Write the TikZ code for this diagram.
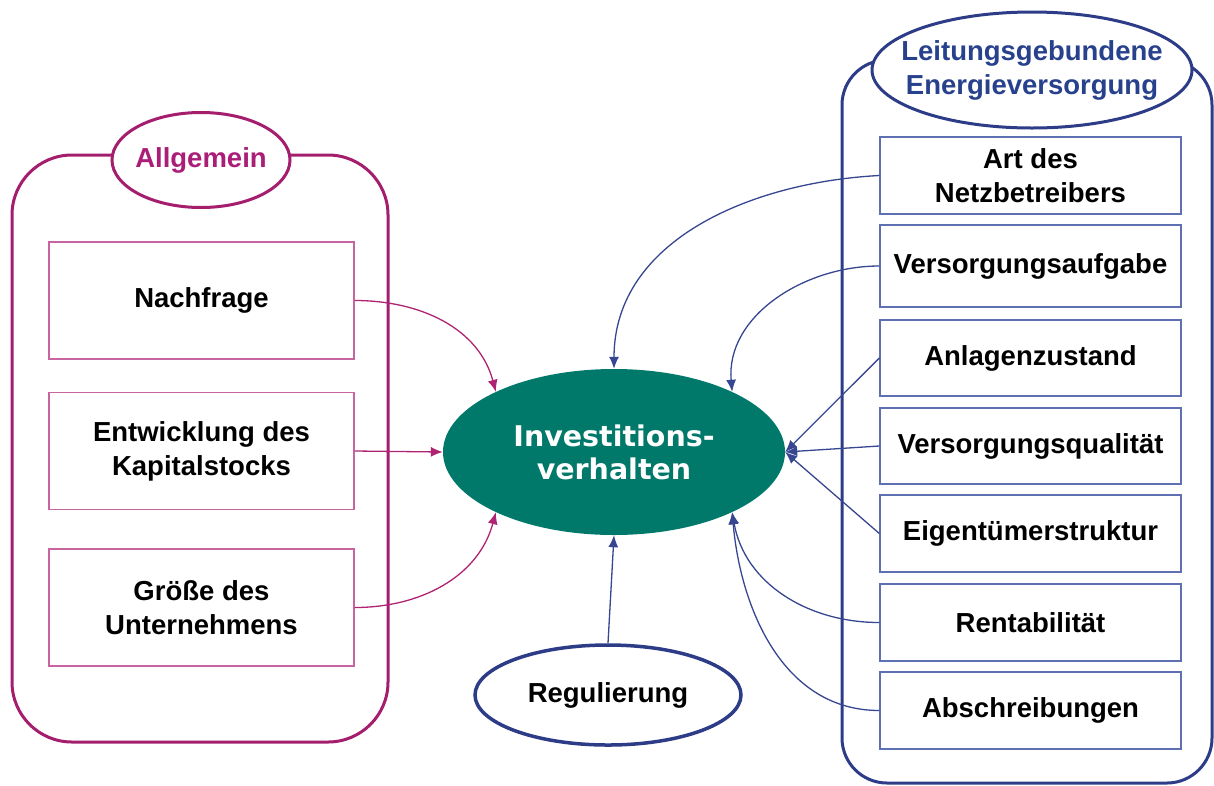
\documentclass[tikz,border=0pt]{standalone}
\usepackage{fontspec}
\setmainfont{Liberation Sans}
\newfontfamily\verd{DejaVu Sans}
\usetikzlibrary{shapes.geometric,arrows.meta}
\definecolor{magD}{RGB}{165,30,110}
\definecolor{magL}{RGB}{200,100,160}
\definecolor{magC}{RGB}{175,35,115}
\definecolor{magT}{RGB}{170,30,120}
\definecolor{blueD}{RGB}{45,60,135}
\definecolor{blueL}{RGB}{95,112,178}
\definecolor{blueC}{RGB}{55,70,145}
\definecolor{blueT}{RGB}{40,65,140}
\definecolor{tealC}{RGB}{0,121,107}
\newcommand\myfs{\fontsize{27.5}{34}\selectfont}
\tikzset{
  grpL/.style={draw=magD, line width=3pt, rounded corners=60pt, minimum width=376pt, minimum height=587pt, inner sep=0pt},
  grpR/.style={draw=blueD, line width=3pt, rounded corners=45pt, minimum width=370pt, minimum height=723pt, inner sep=0pt},
  boxL/.style={draw=magL, line width=1.3pt, minimum width=305pt, minimum height=117pt, inner sep=0pt, align=center, font=\bfseries\myfs},
  boxR/.style={draw=blueL, line width=1.3pt, minimum width=301pt, minimum height=77pt, inner sep=0pt, align=center, font=\bfseries\myfs},
  ellL/.style={ellipse, draw=magD, line width=3pt, fill=white, minimum width=178pt, minimum height=95pt, inner sep=-10pt, text=magT, font=\bfseries\myfs},
  ellR/.style={ellipse, draw=blueD, line width=3pt, fill=white, minimum width=320pt, minimum height=116pt, inner sep=-25pt, text=blueT, align=center, font=\bfseries\myfs},
  ellReg/.style={ellipse, draw=blueD, line width=3.5pt, fill=white, minimum width=266pt, minimum height=100pt, inner sep=0pt, font=\bfseries\myfs},
  ellC/.style={ellipse, fill=tealC, minimum width=342pt, minimum height=166pt, inner sep=0pt, text=white, align=center, font=\verd\bfseries\fontsize{28.5}{33}\selectfont},
  mconn/.style={draw=magC, line width=1.3pt, -{Latex[length=12pt,width=10pt]}},
  bconn/.style={draw=blueC, line width=1.3pt, -{Latex[length=12pt,width=10pt]}},
}
\begin{document}
\begin{tikzpicture}[x=1pt,y=-1pt]
\useasboundingbox (0,0) rectangle (1214,785);
% groups
\node[grpL] (gL) at (200,448.5) {};
\node[grpR] (gR) at (1027,421.5) {};
\node[ellL] (allg) at (201,160) {Allgemein};
\node[ellR] (leit) at (1032,70) {Leitungsgebundene\\Energieversorgung};
% left boxes
\node[boxL] (nach) at (201.5,300.5) {Nachfrage};
\node[boxL] (entw) at (201.5,451) {Entwicklung des\\Kapitalstocks};
\node[boxL] (groe) at (201.5,607.5) {Größe des\\Unternehmens};
% right boxes
\node[boxR] (art) at (1030.5,175.5) {Art des\\Netzbetreibers};
\node[boxR, minimum height=82pt] (vauf) at (1030.5,266) {Versorgungsaufgabe};
\node[boxR, minimum height=76pt] (anl) at (1030.5,358) {Anlagenzustand};
\node[boxR, minimum height=76pt] (vq) at (1030.5,446) {Versorgungsqualität};
\node[boxR] (eig) at (1030.5,533.5) {Eigentümerstruktur};
\node[boxR] (rent) at (1030.5,622.5) {Rentabilität};
\node[boxR] (absch) at (1030.5,710.5) {Abschreibungen};
% center
\node[ellC] (inv) at (614,452) {Investitions-\\verhalten};
\node[ellReg] (reg) at (608,695) {Regulierung};
% connectors left
\draw[mconn] (nach.east) to[out=0,in=105] (inv.153);
\draw[mconn] (entw.east) -- (inv.west);
\draw[mconn] (groe.east) to[out=0,in=-105] (inv.207);
% connectors right
\draw[bconn] (art.west) to[out=183,in=90] (inv.north);
\draw[bconn] (vauf.west) to[out=180,in=95] (inv.27);
\draw[bconn] (anl.west) -- (inv.east);
\draw[bconn] (vq.west) -- (inv.east);
\draw[bconn] (eig.west) -- (inv.east);
\draw[bconn] (rent.west) to[out=180,in=-80] (inv.333);
\draw[bconn] (absch.west) to[out=180,in=-85] (inv.333);
\draw[bconn] (reg.north) -- (inv.south);
\end{tikzpicture}
\end{document}
